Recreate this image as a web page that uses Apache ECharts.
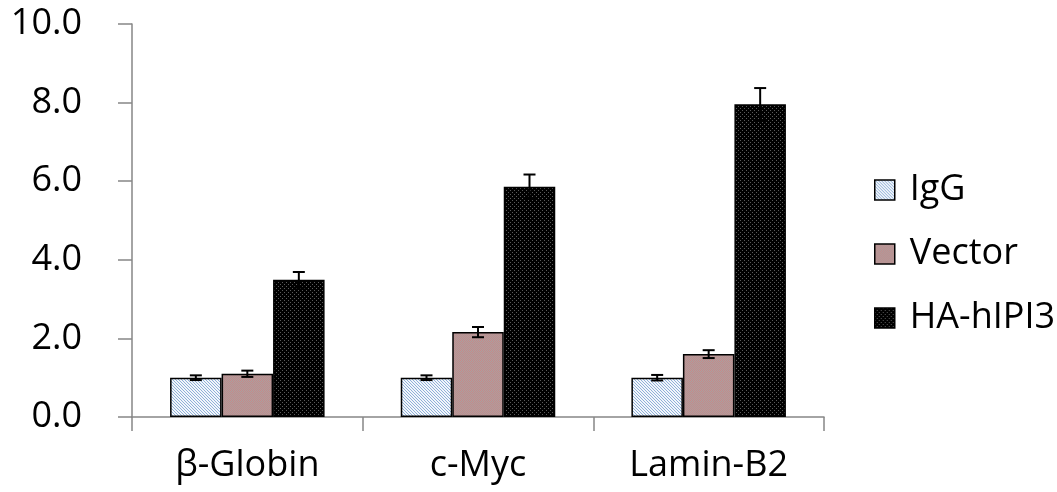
<!DOCTYPE html>
<html>
<head>
<meta charset="utf-8">
<script src="https://cdn.jsdelivr.net/npm/echarts@6/dist/echarts.min.js"></script>
<style>
html,body{margin:0;padding:0;background:#fff;}
#chart{width:1057px;height:492px;}
</style>
</head>
<body>
<div id="chart"></div>
<script>
const categories = ['β-Globin', 'c-Myc', 'Lamin-B2'];
const seriesNames = ['IgG', 'Vector', 'HA-hIPI3'];
const igg = [1.0, 1.0, 1.0];
const iggErr = [0.06, 0.06, 0.07];
const vector = [1.1, 2.16, 1.6];
const vectorErr = [0.08, 0.13, 0.1];
const ha = [3.49, 5.86, 7.96];
const haErr = [0.2, 0.31, 0.41];
const yTicks = { min: 0, max: 10, interval: 2 };

function makePattern(size, bg, pixels) {
  const c = document.createElement('canvas');
  c.width = size; c.height = size;
  const ctx = c.getContext('2d');
  ctx.fillStyle = bg; ctx.fillRect(0, 0, size, size);
  pixels.forEach(p => { ctx.fillStyle = p[2]; ctx.fillRect(p[0], p[1], 1, 1); });
  return { image: c, repeat: 'repeat' };
}
const blueHatch = makePattern(3, '#f2f6fb', [[0,0,'#8fb0d8'],[1,1,'#8fb0d8'],[2,2,'#8fb0d8']]);
const pinkDots = makePattern(2, '#c48a8a', [[1,0,'#ab9f9f'],[0,1,'#ab9f9f']]);
const blackDots = makePattern(4, '#000000', [[0,0,'#5a5a5a'],[2,2,'#5a5a5a']]);

const FONT = '"Open Sans", Lato, sans-serif';
const BAR_W = 51.5;
const values = [igg, vector, ha];
const errors = [iggErr, vectorErr, haErr];
const fills = [blueHatch, pinkDots, blackDots];

const barSeries = seriesNames.map((name, i) => ({
  name: name,
  type: 'bar',
  data: values[i],
  barWidth: BAR_W,
  barGap: '0%',
  itemStyle: { color: fills[i], borderColor: '#000', borderWidth: 1.5 },
  emphasis: { disabled: true },
  z: 2
}));

const errData = [];
for (let s = 0; s < 3; s++) {
  for (let c = 0; c < categories.length; c++) {
    errData.push([c, values[s][c], errors[s][c], s]);
  }
}

const errSeries = {
  type: 'custom',
  name: 'err',
  data: errData,
  z: 10,
  silent: true,
  encode: { x: 0, y: 1 },
  renderItem: function (params, api) {
    const c = api.value(0), v = api.value(1), e = api.value(2), s = api.value(3);
    const base = api.coord([c, v]);
    const x = base[0] + (s - 1) * BAR_W;
    const top = api.coord([c, v + e])[1];
    const bot = api.coord([c, v - e])[1];
    const hw = 6;
    const st = { stroke: '#000', lineWidth: 2 };
    return {
      type: 'group',
      children: [
        { type: 'line', shape: { x1: x, y1: top, x2: x, y2: bot }, style: st },
        { type: 'line', shape: { x1: x - hw, y1: top, x2: x + hw, y2: top }, style: st },
        { type: 'line', shape: { x1: x - hw, y1: bot, x2: x + hw, y2: bot }, style: st }
      ]
    };
  }
};

const chart = echarts.init(document.getElementById('chart'));
chart.setOption({
  animation: false,
  backgroundColor: '#fff',
  grid: { left: 132, right: 233, top: 24, bottom: 75, containLabel: false },
  legend: {
    data: seriesNames,
    orient: 'vertical',
    left: 869,
    top: 165,
    itemWidth: 20,
    itemHeight: 20,
    itemGap: 24,
    icon: 'rect',
    selectedMode: false,
    itemStyle: { borderColor: '#000', borderWidth: 1.5 },
    textStyle: { fontFamily: FONT, fontSize: 36, color: '#000', lineHeight: 40, padding: [0, 0, 0, 10] }
  },
  xAxis: {
    type: 'category',
    data: categories,
    axisLine: { lineStyle: { color: '#868686', width: 1.5 } },
    axisTick: { show: true, length: 14, lineStyle: { color: '#868686', width: 1.5 } },
    axisLabel: { fontFamily: FONT, fontSize: 36, color: '#000', margin: 31 }
  },
  yAxis: {
    type: 'value',
    min: yTicks.min, max: yTicks.max, interval: yTicks.interval,
    axisLine: { show: true, lineStyle: { color: '#868686', width: 1.5 } },
    axisTick: { show: true, length: 14, lineStyle: { color: '#868686', width: 1.5 } },
    splitLine: { show: false },
    axisLabel: {
      fontFamily: FONT, fontSize: 36, color: '#000', margin: 50,
      formatter: v => v.toFixed(1)
    }
  },
  series: [...barSeries, errSeries]
});
</script>
</body>
</html>
